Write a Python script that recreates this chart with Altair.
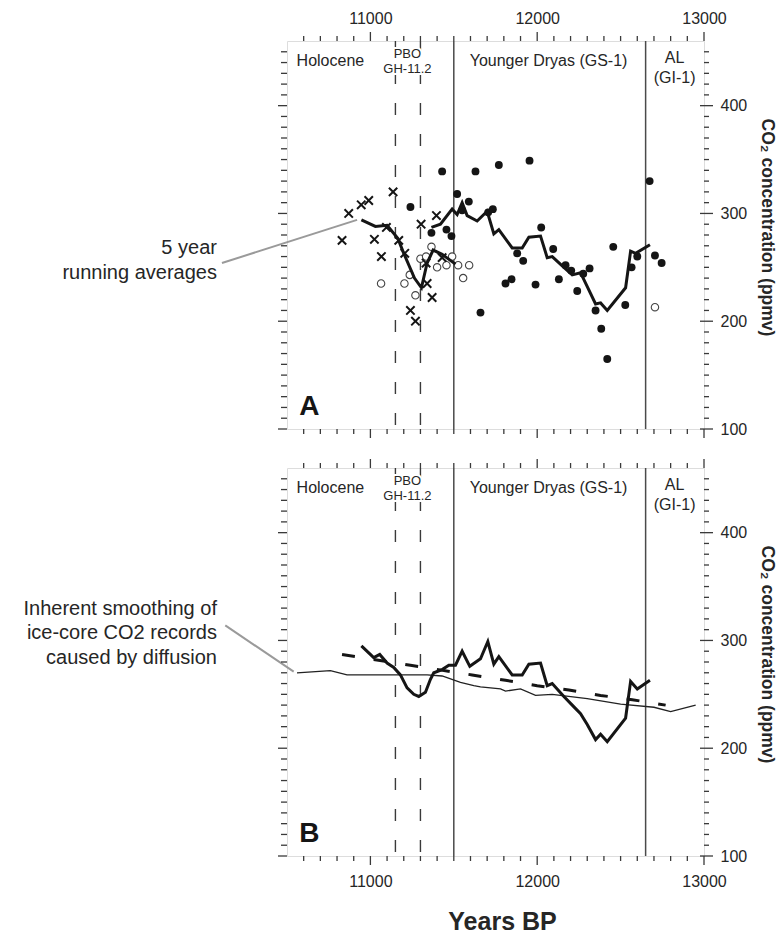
import altair as alt
import pandas as pd

# ---------------- data ----------------
# Panel A: individual measurements
cross_x = [10830, 10870, 10945, 10990, 11024, 11066, 11096, 11136, 11170, 11206,
           11240, 11270, 11304, 11334, 11340, 11370, 11396, 11430]
cross_y = [275, 300, 308, 312, 276, 260, 287, 320, 275, 263,
           210, 200, 290, 254, 235, 222, 298, 259]

open_x = [11064, 11204, 11236, 11270, 11300, 11334, 11366, 11400, 11456, 11490,
          11526, 11556, 11592, 12706]
open_y = [235, 235, 243, 224, 258, 260, 269, 250, 252, 260,
          252, 240, 252, 213]

filled_x = [11240, 11366, 11430, 11456, 11486, 11520, 11550, 11590, 11630, 11660,
            11706, 11734, 11770, 11810, 11846, 11880, 11916, 11954, 11990, 12024,
            12096, 12130, 12170, 12204, 12240, 12276, 12314, 12350, 12384, 12420,
            12456, 12528, 12566, 12600, 12674, 12706, 12746]
filled_y = [306, 282, 339, 285, 279, 318, 303, 311, 339, 208,
            301, 304, 345, 235, 239, 263, 256, 349, 234, 287,
            267, 239, 252, 247, 228, 244, 249, 210, 193, 165,
            269, 215, 250, 260, 330, 261, 254]

# Panel A: 5 year running averages (two segments)
avg1_x = [10946, 11030, 11100, 11164, 11200, 11264, 11306, 11340, 11376, 11430, 11510]
avg1_y = [294, 288, 289, 277, 263, 240, 231, 254, 266, 262, 253]
avg2_x = [11366, 11420, 11490, 11520, 11550, 11580, 11640, 11700, 11740, 11770,
          11850, 11910, 11950, 12020, 12060, 12090, 12160, 12210, 12260, 12350,
          12380, 12420, 12530, 12560, 12590, 12676]
avg2_y = [287, 290, 304, 299, 310, 298, 293, 302, 281, 285,
          268, 268, 278, 279, 259, 260, 250, 243, 245, 216,
          217, 210, 231, 265, 263, 271]

# Panel B: running average, trend (dashed) and diffusion-smoothed record (thin)
bavg_x = [10946, 11020, 11056, 11100, 11140, 11180, 11220, 11260, 11290, 11330,
          11360, 11380, 11430, 11470, 11510, 11550, 11596, 11660, 11704, 11740,
          11770, 11850, 11910, 11950, 12020, 12060, 12090, 12160, 12210, 12260,
          12300, 12350, 12380, 12420, 12530, 12560, 12600, 12676]
bavg_y = [295, 284, 287, 279, 275, 268, 256, 250, 248, 252,
          264, 270, 273, 277, 277, 290, 276, 283, 299, 278,
          285, 268, 268, 278, 279, 258, 260, 248, 240, 232,
          222, 208, 213, 206, 228, 262, 255, 263]
trend_x = [10830, 11240, 11610, 11810, 12000, 12190, 12380, 12570, 12770]
trend_y = [287, 277, 268, 263, 258, 254, 249, 245, 240]
smooth_x = [10560, 10760, 10860, 11180, 11340, 11430, 11540, 11620, 11660, 11780,
            11810, 11900, 11990, 12090, 12300, 12500, 12700, 12800, 12950]
smooth_y = [270, 272, 268, 268, 268, 267, 261, 258, 257, 255,
            253, 255, 249, 250, 246, 241, 238, 234, 240]

# period boundaries
solid_bounds = [11500, 12650]
dashed_bounds = [11150, 11300]

# ticks
x_labels = [11000, 12000, 13000]
y_labels = [100, 200, 300, 400]
x_minor = [v for v in range(10600, 13000, 100) if v % 1000 != 0]
y_minor = [v for v in range(110, 460, 10) if v % 100 != 0]

# labels
period_text = ["Holocene", "Younger Dryas (GS-1)", "AL", "(GI-1)"]
period_tx = [10760, 12068, 12824, 12824]
period_ty = [441, 441, 444, 426]
pbo_text = ["PBO", "GH-11.2"]
pbo_tx = [11222, 11222]
pbo_ty = [448, 434]

noteA_text = ["5 year", "running averages"]
noteA_tx = [10080, 10080]
noteA_ty = [268, 245]
noteA_line_x = [10110, 10920]
noteA_line_y = [254, 294]

noteB_text = ["Inherent smoothing of", "ice-core CO2 records", "caused by diffusion"]
noteB_tx = [10080, 10080, 10080]
noteB_ty = [329, 307, 284]
noteB_line_x = [10130, 10540]
noteB_line_y = [314, 271]

# ---------------- styling ----------------
X_DOMAIN = [10500, 13000]
Y_DOMAIN = [100, 460]
W, H = 417, 388
FONT = "Liberation Sans"
INK = "#151515"
FRAME = "#3a3a3a"
TXT = "#262626"

xs = alt.Scale(domain=X_DOMAIN, nice=False, zero=False)
ys = alt.Scale(domain=Y_DOMAIN, nice=False, zero=False)

XAXIS_TOP = alt.Axis(orient="top", values=x_labels, ticks=False, domain=False, grid=False,
                     labelPadding=15, labelFontSize=16, labelColor=TXT, labelFont=FONT,
                     labelFlush=False, title=None, format="d")
XAXIS_BOTTOM = alt.Axis(orient="bottom", values=x_labels, ticks=False, domain=False, grid=False,
                        labelPadding=17, labelFontSize=16, labelColor=TXT, labelFont=FONT,
                        labelFlush=False,
                        title="Years BP", titleFontSize=25, titleFontWeight="bold",
                        titleFont=FONT, titleColor=TXT, titlePadding=20, titleX=215,
                        format="d")
YAXIS = alt.Axis(orient="right", values=y_labels, ticks=False, domain=False, grid=False,
                 labelPadding=16, labelFontSize=16, labelColor=TXT, labelFont=FONT,
                 labelFlush=False,
                 title="CO₂ concentration (ppmv)", titleFontSize=17.5,
                 titleFontWeight="bold", titleFont=FONT, titleColor=TXT,
                 titlePadding=11, titleY=186, titleAngle=90)


def make_panel(letter, top, content):
    xaxis = XAXIS_TOP if top else XAXIS_BOTTOM

    def X(field="x"):
        return alt.X(f"{field}:Q", scale=xs, axis=xaxis)

    def Y(field="y"):
        return alt.Y(f"{field}:Q", scale=ys, axis=YAXIS)

    def df(xv, yv, **extra):
        d = pd.DataFrame({"x": xv, "y": yv})
        for k, v in extra.items():
            d[k] = v
        return d

    layers = []
    # period boundaries
    layers.append(alt.Chart(pd.DataFrame({"x": solid_bounds})).mark_rule(
        color="#4a4a4a", strokeWidth=1.5).encode(x=X()))
    layers.append(alt.Chart(pd.DataFrame({"x": dashed_bounds})).mark_rule(
        color="#3a3a3a", strokeWidth=1.4, strokeDash=[12, 19]).encode(x=X()))
    # period labels
    ptxt = pd.DataFrame({"t": period_text, "x": period_tx, "y": period_ty})
    layers.append(alt.Chart(ptxt).mark_text(font=FONT, fontSize=16, color=TXT).encode(
        x=X(), y=Y(), text="t:N"))
    pb = pd.DataFrame({"t": pbo_text, "x": pbo_tx, "y": pbo_ty})
    layers.append(alt.Chart(pb).mark_text(font=FONT, fontSize=13, color="white",
                                          stroke="white", strokeWidth=4).encode(
        x=X(), y=Y(), text="t:N"))
    layers.append(alt.Chart(pb).mark_text(font=FONT, fontSize=13, color=TXT).encode(
        x=X(), y=Y(), text="t:N"))
    lt = pd.DataFrame({"t": [letter], "x": [10634], "y": [120]})
    layers.append(alt.Chart(lt).mark_text(font=FONT, fontSize=28, fontWeight="bold",
                                          color=INK).encode(x=X(), y=Y(), text="t:N"))

    # content
    layers += content(X, Y, df)

    # ticks
    xmaj = pd.DataFrame({"x": x_labels})
    xmin = pd.DataFrame({"x": x_minor})
    ymaj = pd.DataFrame({"y": y_labels})
    ymin = pd.DataFrame({"y": y_minor})
    rule = dict(color=FRAME, strokeWidth=1.3)
    layers.append(alt.Chart(xmaj).mark_rule(**rule).encode(
        x=X(), y=alt.value(0), y2=alt.value(-9)))
    layers.append(alt.Chart(xmaj).mark_rule(**rule).encode(
        x=X(), y=alt.value(H), y2=alt.value(H + 9)))
    layers.append(alt.Chart(xmin).mark_rule(**rule).encode(
        x=X(), y=alt.value(0), y2=alt.value(-5)))
    layers.append(alt.Chart(xmin).mark_rule(**rule).encode(
        x=X(), y=alt.value(H), y2=alt.value(H + 5)))
    layers.append(alt.Chart(ymaj).mark_rule(**rule).encode(
        y=Y(), x=alt.value(W - 4), x2=alt.value(W + 9)))
    layers.append(alt.Chart(ymaj).mark_rule(**rule).encode(
        y=Y(), x=alt.value(0), x2=alt.value(-9)))
    layers.append(alt.Chart(ymin).mark_rule(**rule).encode(
        y=Y(), x=alt.value(W), x2=alt.value(W + 5)))
    layers.append(alt.Chart(ymin).mark_rule(**rule).encode(
        y=Y(), x=alt.value(0), x2=alt.value(-6)))
    return alt.layer(*layers).properties(width=W, height=H)


def note(X, Y, df, texts, tx, ty, lx, ly):
    nt = pd.DataFrame({"t": texts, "x": tx, "y": ty})
    return [
        alt.Chart(df(lx, ly)).mark_line(color="#9a9a9a", strokeWidth=2).encode(x=X(), y=Y()),
        alt.Chart(nt).mark_text(font=FONT, fontSize=20, color=TXT, align="right").encode(
            x=X(), y=Y(), text="t:N"),
    ]


def contentA(X, Y, df):
    avgA = pd.concat([df(avg1_x, avg1_y, s="a"), df(avg2_x, avg2_y, s="b")])
    return [
        alt.Chart(df(open_x, open_y)).mark_point(shape="circle", size=55, filled=True,
                                                 fill="white", stroke="#444", strokeWidth=1.1,
                                                 opacity=1).encode(x=X(), y=Y()),
        alt.Chart(df(cross_x, cross_y)).mark_point(shape="M-1,-1L1,1M-1,1L1,-1", size=70,
                                                   filled=False, color=INK, strokeWidth=2,
                                                   opacity=1).encode(x=X(), y=Y()),
        alt.Chart(df(filled_x, filled_y)).mark_point(shape="circle", size=62, filled=True,
                                                     color=INK, opacity=1).encode(x=X(), y=Y()),
        alt.Chart(avgA).mark_line(color=INK, strokeWidth=3).encode(
            x=X(), y=Y(), detail="s:N", order=alt.Order("x:Q")),
    ] + note(X, Y, df, noteA_text, noteA_tx, noteA_ty, noteA_line_x, noteA_line_y)


def contentB(X, Y, df):
    return [
        alt.Chart(df(smooth_x, smooth_y)).mark_line(color="#222", strokeWidth=1.3).encode(
            x=X(), y=Y()),
        alt.Chart(df(trend_x, trend_y)).mark_line(color=INK, strokeWidth=3,
                                                  strokeDash=[13, 19]).encode(x=X(), y=Y()),
        alt.Chart(df(bavg_x, bavg_y)).mark_line(color=INK, strokeWidth=3).encode(
            x=X(), y=Y()),
    ] + note(X, Y, df, noteB_text, noteB_tx, noteB_ty, noteB_line_x, noteB_line_y)


panelA = make_panel("A", True, contentA)
panelB = make_panel("B", False, contentB)

chart = alt.vconcat(panelA, panelB, spacing=17).properties(
    padding={"left": 22, "top": 9, "right": 0, "bottom": 0},
    background="white",
).configure_view(stroke=FRAME, strokeWidth=1.5).configure(font=FONT)

chart.save("out.html", embed_options={"renderer": "svg", "actions": False})
